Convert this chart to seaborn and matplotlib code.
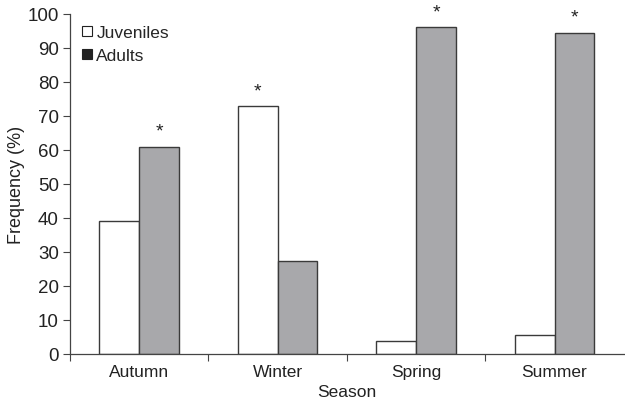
import seaborn as sns
import pandas as pd
import matplotlib.pyplot as plt
from matplotlib.lines import Line2D

# Data
seasons = ["Autumn", "Winter", "Spring", "Summer"]
juveniles = [39.0, 72.8, 3.8, 5.5]
adults = [61.0, 27.2, 96.2, 94.5]
significant = ["Adults", "Juveniles", "Adults", "Adults"]  # bar carrying the star

df = pd.DataFrame(
    {
        "Season": seasons * 2,
        "Frequency": juveniles + adults,
        "Group": ["Juveniles"] * 4 + ["Adults"] * 4,
    }
)

sns.set_style("white")
plt.rcParams["font.family"] = ["Liberation Sans", "DejaVu Sans"]

fig = plt.figure(figsize=(6.25, 4.02), dpi=100)
ax = fig.add_axes([0.112, 0.117, 0.886, 0.846])

palette = {"Juveniles": "white", "Adults": "#a7a8ab"}
sns.barplot(
    data=df,
    x="Season",
    y="Frequency",
    hue="Group",
    order=seasons,
    hue_order=["Juveniles", "Adults"],
    palette=palette,
    width=0.575,
    edgecolor="#3a3a3a",
    linewidth=1.0,
    legend=False,
    ax=ax,
)

# stars above the significant bar in each season
for i, season in enumerate(seasons):
    grp = significant[i]
    val = juveniles[i] if grp == "Juveniles" else adults[i]
    offset = -0.144 if grp == "Juveniles" else 0.144
    ax.text(i + offset, val + 4.5, "*", ha="center", va="center", fontsize=14,
            color="#222", clip_on=False)

ax.set_xlim(-0.5, 3.5)
ax.set_ylim(0, 100)
ax.set_yticks(range(0, 101, 10))
ax.set_xticks(range(4))
ax.set_xticks([-0.5, 0.5, 1.5, 2.5], minor=True)
ax.tick_params(axis="x", which="major", length=0, labelsize=12.5, pad=7, colors="#222")
ax.tick_params(axis="x", which="minor", length=5, width=0.8, direction="out", bottom=True, color="#444")
ax.tick_params(axis="y", length=5, width=0.8, direction="out", left=True, labelsize=13.5,
               pad=3, colors="#222", color="#444")

sns.despine(ax=ax, top=True, right=True)
for s in ["left", "bottom"]:
    ax.spines[s].set_color("#444")
    ax.spines[s].set_linewidth(0.9)

ax.set_xlabel("Season", fontsize=12.5, labelpad=4, color="#222")
ax.set_ylabel("Frequency (%)", fontsize=13, labelpad=2, color="#222")

handles = [
    Line2D([], [], marker="s", linestyle="", markerfacecolor="white", markeredgecolor="#222",
           markeredgewidth=0.8, markersize=7),
    Line2D([], [], marker="s", linestyle="", markerfacecolor="#222", markeredgecolor="#222",
           markeredgewidth=0.8, markersize=7),
]
ax.legend(
    handles,
    ["Juveniles", "Adults"],
    loc="upper left",
    bbox_to_anchor=(0.002, 0.993),
    frameon=False,
    fontsize=12.5,
    handletextpad=0.15,
    handlelength=0.8,
    borderaxespad=0.1,
    labelspacing=0.45,
)

fig.savefig("out.png", dpi=100)
